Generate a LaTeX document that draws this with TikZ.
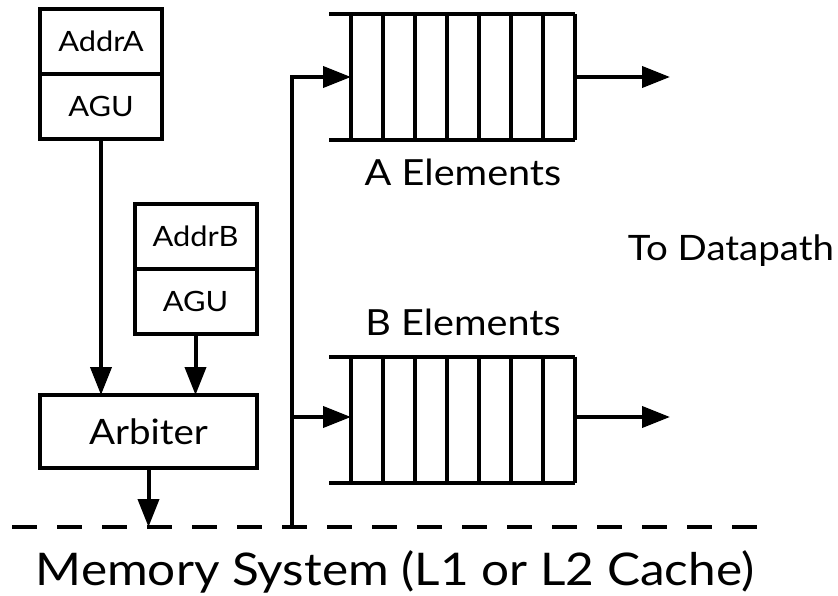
\documentclass[tikz,border=0pt]{standalone}
\usepackage{fontspec}
\setmainfont[FakeStretch=1.1]{Lato}
\usetikzlibrary{arrows.meta,positioning}

\begin{document}
\begin{tikzpicture}[x=1pt,y=-1pt,line width=4pt,
  box/.style={draw,minimum width=122pt,minimum height=65pt,inner sep=0pt,outer sep=0pt,font=\fontsize{28}{28}\selectfont},
  queue/.style={minimum width=224pt,minimum height=126pt,inner sep=0pt,outer sep=0pt},
  arr/.style={-{Triangle[length=28pt,width=21pt]}},
  lbl/.style={inner sep=0pt,font=\fontsize{36}{36}\selectfont}]
  \useasboundingbox (0,0) rectangle (838,595);
  % address generators
  \node[box] (addrA) at (101,41) {AddrA};
  \node[box,below=0pt of addrA] (aguA) {AGU};
  \node[box] (addrB) at (195.5,236.5) {AddrB};
  \node[box,below=0pt of addrB] (aguB) {AGU};
  \node[box,minimum width=217pt,minimum height=73pt,font=\fontsize{35}{35}\selectfont] (arbiter) at (148.5,431.5) {Arbiter};
  % queues
  \node[queue] (qA) at (463,77) {};
  \node[queue] (qB) at (463,419.5) {};
  \foreach \q in {qA,qB}{
    \draw ([xshift=-22pt]\q.north west) -- (\q.north east);
    \draw ([xshift=-22pt]\q.south west) -- (\q.south east);
    \foreach \i in {0,...,7}
      \draw ([xshift=\i*32pt]\q.north west) -- ([xshift=\i*32pt]\q.south west);
  }
  \node[lbl,below=17pt of qA] (labA) {A Elements};
  \node[lbl,above=19pt of qB] (labB) {B Elements};
  \node[lbl,anchor=base,font=\fontsize{35}{35}\selectfont] (todp) at (731,260) {To Datapath};
  % memory
  \coordinate (memL) at (12,527);
  \coordinate (memR) at (760,527);
  \coordinate (tap) at (292,527);
  \coordinate (outA) at (670,77);
  \coordinate (outB) at (670,417);
  \draw[dash pattern=on 25pt off 20pt] (memL) -- (memR);
  \node[lbl,anchor=base,font=\fontsize{45}{45}\selectfont] (mem) at (395,585) {Memory System (L1 or L2 Cache)};
  % connections
  \draw[arr] (aguA.south) -- (aguA.south |- arbiter.north);
  \draw[arr] (aguB.south) -- (aguB.south |- arbiter.north);
  \draw[arr] (arbiter.south) -- (arbiter.south |- memL);
  \draw[arr] (tap) |- (qA.west);
  \draw[arr] (tap |- outB) -- (qB.west |- outB);
  \draw[arr] (qA.east) -- (outA);
  \draw[arr] (qB.east |- outB) -- (outB);
\end{tikzpicture}
\end{document}
